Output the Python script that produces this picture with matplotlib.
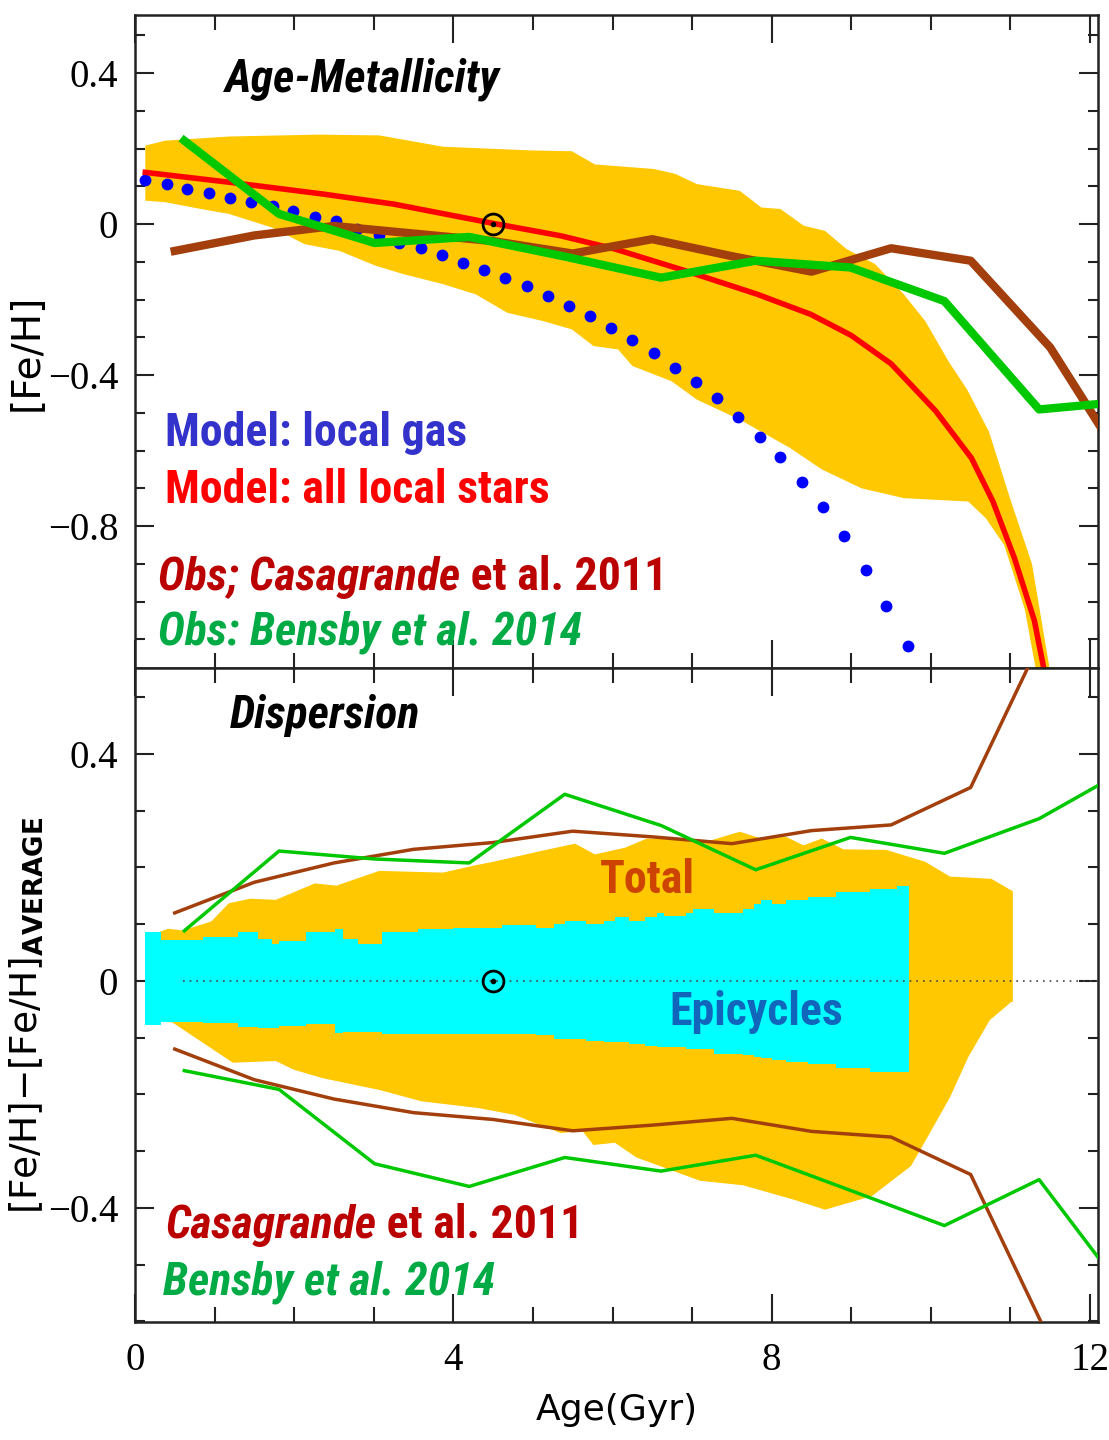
import matplotlib
matplotlib.use('Agg')
import matplotlib.pyplot as plt
from matplotlib import font_manager
from matplotlib.ticker import MultipleLocator, FuncFormatter

# ---- Age-metallicity panel -------------------------------------------------
# spread of all local stars (upper and lower edges of the shaded band)
band_top_age = [0.13, 0.38, 1.18, 2.3, 3.07, 3.87, 5.0, 5.49, 5.78, 6.52, 6.79, 7.06,
                7.6, 7.87, 8.11, 8.4, 8.67, 8.94, 9.3, 9.66, 9.93, 10.22, 10.46,
                10.73, 11.0, 11.27, 11.55]
band_top_feh = [0.208, 0.221, 0.232, 0.237, 0.235, 0.205, 0.195, 0.193, 0.158, 0.146,
                0.133, 0.106, 0.088, 0.044, 0.04, -0.004, -0.018, -0.066, -0.106,
                -0.186, -0.257, -0.363, -0.44, -0.55, -0.73, -0.90, -1.25]
band_bot_age = [0.13, 0.38, 0.83, 1.18, 1.72, 2.13, 2.57, 3.02, 3.38, 3.87, 4.28, 4.68,
                5.13, 5.49, 5.76, 6.07, 6.25, 6.74, 7.06, 7.6, 8.23, 8.63, 9.13, 9.66,
                10.47, 10.69, 10.92, 11.18, 11.38]
band_bot_feh = [0.062, 0.058, 0.04, 0.027, -0.009, -0.053, -0.071, -0.11, -0.133,
                -0.159, -0.186, -0.235, -0.257, -0.279, -0.323, -0.332, -0.376, -0.416,
                -0.465, -0.518, -0.593, -0.65, -0.70, -0.726, -0.735, -0.779, -0.85,
                -1.02, -1.25]

# model: mean of all local stars
stars_age = [0.13, 1.18, 2.35, 3.25, 4.5, 5.35, 6.03, 6.92, 7.82, 8.49, 9.0, 9.5,
             10.06, 10.51, 10.78, 11.05, 11.3, 11.44]
stars_feh = [0.137, 0.111, 0.08, 0.053, 0.002, -0.031, -0.066, -0.124, -0.186, -0.239,
             -0.295, -0.37, -0.495, -0.62, -0.735, -0.885, -1.05, -1.2]

# model: local gas
gas_age = [0.13, 0.40, 0.66, 0.93, 1.19, 1.46, 1.73, 1.99, 2.26, 2.52, 2.79, 3.06,
           3.32, 3.59, 3.86, 4.12, 4.39, 4.65, 4.92, 5.19, 5.45, 5.72, 5.98, 6.25,
           6.52, 6.78, 7.05, 7.31, 7.58, 7.85, 8.11, 8.38, 8.64, 8.91, 9.18, 9.44, 9.71]
gas_feh = [0.118, 0.106, 0.093, 0.082, 0.069, 0.058, 0.047, 0.034, 0.019, 0.007,
           -0.012, -0.03, -0.049, -0.064, -0.081, -0.102, -0.122, -0.143, -0.165,
           -0.19, -0.217, -0.243, -0.276, -0.308, -0.341, -0.381, -0.419, -0.462,
           -0.512, -0.564, -0.618, -0.683, -0.75, -0.826, -0.916, -1.011, -1.117]

# observations
cas_age = [0.5, 1.5, 2.5, 3.5, 4.5, 5.5, 6.5, 7.5, 8.5, 9.5, 10.5, 11.5, 12.5]
cas_feh = [-0.071, -0.03, -0.005, -0.025, -0.045, -0.078, -0.04, -0.085, -0.126,
           -0.064, -0.097, -0.327, -0.66]
ben_age = [0.62, 1.81, 3.01, 4.2, 5.4, 6.61, 7.8, 8.99, 10.17, 11.36, 12.55]
ben_feh = [0.221, 0.027, -0.05, -0.034, -0.086, -0.142, -0.097, -0.115, -0.204,
           -0.491, -0.468]

sun_age = 4.5

# ---- Dispersion panel ------------------------------------------------------
total_top_age = [0.13, 0.42, 0.6, 0.96, 1.18, 1.45, 1.77, 2.26, 2.53, 3.07, 3.87, 4.28,
                 4.5, 5.13, 5.53, 5.78, 6.16, 6.43, 7.24, 7.6, 7.87, 8.18, 8.4, 8.63,
                 8.9, 9.44, 9.93, 10.24, 10.76, 11.03, 11.03]
total_top = [0.078, 0.092, 0.089, 0.105, 0.137, 0.145, 0.143, 0.172, 0.168, 0.194,
             0.191, 0.204, 0.21, 0.23, 0.242, 0.223, 0.235, 0.251, 0.248, 0.263, 0.251,
             0.254, 0.239, 0.251, 0.232, 0.231, 0.21, 0.184, 0.18, 0.158, -0.037]
total_bot_age = [0.13, 0.47, 1.23, 1.77, 1.99, 2.35, 3.07, 3.6, 4.32, 4.77, 5.35, 5.62,
                 5.76, 6.03, 6.3, 7.1, 7.64, 8.27, 8.67, 9.26, 9.75, 9.93, 10.24, 10.47,
                 10.74, 11.01]
total_bot = [-0.07, -0.073, -0.144, -0.141, -0.156, -0.171, -0.192, -0.212, -0.224,
             -0.236, -0.268, -0.264, -0.289, -0.285, -0.311, -0.352, -0.36, -0.385,
             -0.403, -0.379, -0.326, -0.282, -0.205, -0.134, -0.069, -0.037]

epi_age = [0.13, 0.33, 0.85, 1.3, 1.54, 1.72, 1.81, 2.15, 2.51, 2.62, 2.8, 3.11, 3.56,
           4.0, 4.61, 5.04, 5.26, 5.4, 5.67, 5.89, 6.03, 6.21, 6.41, 6.56, 6.65, 6.92,
           7.01, 7.28, 7.64, 7.78, 7.87, 8.0, 8.18, 8.45, 8.81, 9.23, 9.57, 9.73]
epi_top = [0.087, 0.072, 0.078, 0.086, 0.074, 0.065, 0.071, 0.086, 0.091, 0.074, 0.065,
           0.086, 0.091, 0.093, 0.099, 0.094, 0.1, 0.106, 0.1, 0.106, 0.113, 0.106,
           0.113, 0.12, 0.115, 0.119, 0.127, 0.12, 0.127, 0.135, 0.142, 0.136, 0.142,
           0.148, 0.156, 0.162, 0.168, 0.168]
epi_bot = [-0.078, -0.073, -0.074, -0.081, -0.082, -0.082, -0.08, -0.075, -0.091,
           -0.09, -0.09, -0.093, -0.093, -0.093, -0.094, -0.096, -0.102, -0.103, -0.105,
           -0.107, -0.108, -0.111, -0.114, -0.116, -0.117, -0.119, -0.12, -0.128,
           -0.131, -0.134, -0.136, -0.14, -0.142, -0.146, -0.153, -0.161, -0.161, -0.161]

cas_sigma = [0.12, 0.174, 0.208, 0.232, 0.244, 0.264, 0.254, 0.242, 0.265, 0.275,
             0.341, 0.635]
ben_hi = [0.0885, 0.229, 0.215, 0.208, 0.329, 0.274, 0.196, 0.253, 0.225, 0.286, 0.38]
ben_lo = [-0.158, -0.191, -0.322, -0.362, -0.311, -0.335, -0.307, -0.369, -0.431,
          -0.35, -0.57]
zero_line_start = 0.6

YELLOW = '#FFC800'
BROWN = '#A33F0C'
GREEN = '#00C800'

fonts = {f.name for f in font_manager.fontManager.ttflist}


def pick(*names):
    for n in names:
        if n in fonts:
            return n
    return 'DejaVu Sans'


NARROW = pick('Liberation Sans Narrow', 'DejaVu Sans Condensed', 'Roboto Condensed',
              'Liberation Sans')
SERIF = pick('Liberation Serif', 'DejaVu Serif')
THIN = pick('DejaVu Sans Condensed', 'Liberation Sans Narrow', 'DejaVu Sans')
ann_size = 33 if NARROW != 'Liberation Sans' else 28

plt.rcParams['font.family'] = SERIF
plt.rcParams['mathtext.fontset'] = 'custom'
plt.rcParams['mathtext.rm'] = THIN
plt.rcParams['mathtext.bf'] = THIN + ':bold'

fig = plt.figure(figsize=(11.09, 14.4), dpi=100)
ax1 = fig.add_axes([0.1217, 0.5361, 0.8684, 0.4535])
ax2 = fig.add_axes([0.1217, 0.0819, 0.8684, 0.4542])


def tick_fmt(v, pos):
    if abs(v) < 1e-9:
        return '0'
    return ('%g' % round(v, 2)).replace('-', '\u2212')


def frame(ax, ylo, yhi):
    ax.set_xlim(0, 12.1)
    ax.set_ylim(ylo, yhi)
    ax.xaxis.set_major_locator(MultipleLocator(4))
    ax.xaxis.set_minor_locator(MultipleLocator(1))
    ax.yaxis.set_major_locator(MultipleLocator(0.4))
    ax.yaxis.set_minor_locator(MultipleLocator(0.1))
    ax.xaxis.set_major_formatter(FuncFormatter(tick_fmt))
    ax.yaxis.set_major_formatter(FuncFormatter(tick_fmt))
    ax.tick_params(which='both', direction='in', top=True, right=True,
                   width=1.5, color='#222222', labelsize=28)
    ax.tick_params(axis='x', which='major', length=20, pad=14)
    ax.tick_params(axis='x', which='minor', length=11)
    ax.tick_params(axis='y', which='major', length=14, pad=12)
    ax.tick_params(axis='y', which='minor', length=7)
    for s in ax.spines.values():
        s.set_linewidth(1.8)
        s.set_color('#222222')


def label(ax, x, y, parts, size=ann_size):
    renderer = fig.canvas.get_renderer()
    for text, color, style in parts:
        t = ax.text(x, y, text, color=color, fontstyle=style, fontweight='bold',
                    family=NARROW, fontsize=size, ha='left', va='baseline', zorder=10)
        bb = t.get_window_extent(renderer=renderer)
        x = ax.transData.inverted().transform((bb.x1, bb.y0))[0]


def sun(ax):
    ax.plot(sun_age, 0, marker='o', ms=15, mfc='none', mec='black', mew=2, zorder=9)
    ax.plot(sun_age, 0, marker='o', ms=3, color='black', zorder=9)


# top panel
frame(ax1, -1.176, 0.554)
ax1.tick_params(labelbottom=False)
ax1.fill(band_top_age + band_bot_age[::-1], band_top_feh + band_bot_feh[::-1],
         color=YELLOW, lw=0, zorder=1)
ax1.plot(gas_age, gas_feh, ls='none', marker='o', ms=7.5, color='#0000FF', zorder=3)
ax1.plot(stars_age, stars_feh, color='#FF0000', lw=4, zorder=4,
         solid_joinstyle='round')
ax1.plot(cas_age, cas_feh, color=BROWN, lw=6, zorder=5)
ax1.plot(ben_age, ben_feh, color=GREEN, lw=6, zorder=6)
sun(ax1)

ax1.set_ylabel('[Fe/H]', family=THIN, fontsize=28)
ax1.yaxis.set_label_coords(-0.093, 0.484)

label(ax1, 1.13, 0.35, [('Age-Metallicity', 'black', 'italic')])
label(ax1, 0.38, -0.588, [('Model: local gas', '#3333CC', 'normal')])
label(ax1, 0.38, -0.739, [('Model: all local stars', '#FF0000', 'normal')])
label(ax1, 0.29, -0.97, [('Obs; Casagrande', '#BB0000', 'italic'),
                         (' et al. 2011', '#BB0000', 'normal')])
label(ax1, 0.29, -1.115, [('Obs: Bensby et al. 2014', '#00AA44', 'italic')])

# bottom panel
frame(ax2, -0.601, 0.5515)
ax2.fill(total_top_age + total_bot_age[::-1], total_top + total_bot[::-1],
         color=YELLOW, lw=0, zorder=1)
ax2.fill_between(epi_age, epi_bot, epi_top, step='post', color='#00FFFF', lw=0,
                 zorder=2)
ax2.hlines(0, zero_line_start, 12.1, colors='#444444', linestyles=(0, (1, 3)), lw=1.2,
           zorder=3)
cas_lo = [-s for s in cas_sigma]
ax2.plot(cas_age[:len(cas_sigma)], cas_sigma, color=BROWN, lw=2.5, zorder=4)
ax2.plot(cas_age[:len(cas_sigma)], cas_lo, color=BROWN, lw=2.5, zorder=4)
ax2.plot(ben_age, ben_hi, color=GREEN, lw=2.5, zorder=5)
ax2.plot(ben_age, ben_lo, color=GREEN, lw=2.5, zorder=5)
sun(ax2)

ax2.set_ylabel('[Fe/H]\u2212[Fe/H]$_{\\mathbf{AVERAGE}}$', family=THIN, fontsize=27)
ax2.yaxis.set_label_coords(-0.093, 0.469)
ax2.set_xlabel('Age(Gyr)', family=THIN, fontsize=26)
ax2.xaxis.set_label_coords(0.5, -0.108)

label(ax2, 1.19, 0.446, [('Dispersion', 'black', 'italic')])
label(ax2, 5.84, 0.155, [('Total', '#CC4400', 'normal')])
label(ax2, 6.72, -0.0775, [('Epicycles', '#1166BB', 'normal')])
label(ax2, 0.38, -0.453, [('Casagrande', '#BB0000', 'italic'),
                          (' et al. 2011', '#BB0000', 'normal')])
label(ax2, 0.35, -0.553, [('Bensby et al. 2014', '#00AA44', 'italic')])

fig.savefig('out.png', dpi=100)
